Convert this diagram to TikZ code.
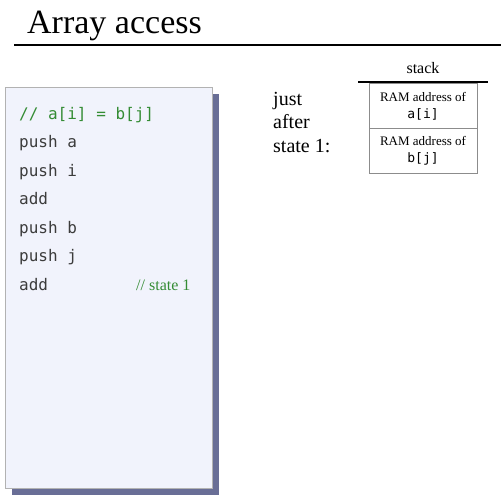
\documentclass[tikz,border=0pt]{standalone}
\usepackage{fontspec}
\setmainfont{Liberation Serif}
\setmonofont{DejaVu Sans Mono}
\definecolor{codegreen}{RGB}{52,140,52}
\definecolor{codegray}{RGB}{60,60,60}
\definecolor{panelfill}{RGB}{241,243,252}
\definecolor{panelshadow}{RGB}{105,110,150}
\tikzset{
	codeline/.style={anchor=base west, inner sep=0pt, text=codegray, font=\fontsize{16}{16}\selectfont\ttfamily},
	label/.style={anchor=base west, inner sep=0pt, font=\fontsize{20}{20}\selectfont},
	cell/.style={draw=black!45, minimum width=108pt, minimum height=45pt, inner sep=0pt, align=center, font=\fontsize{13}{17}\selectfont}
}
\begin{document}
\begin{tikzpicture}[x=1pt,y=-1pt]
		\useasboundingbox (0,0) rectangle (501,501);

		\node[anchor=base west, inner sep=0pt, font=\fontsize{34}{34}\selectfont] (title) at (27,33) {Array access};
		\draw[line width=1.5pt] (14,45) -- (501,45);

		% code panel
		\fill[panelshadow] (12,94) rectangle (219,495);
		\filldraw[draw=black!30, fill=panelfill] (5,87) rectangle (212,488);

		\node[codeline, text=codegreen] (c0) at (19,119) {// a[i] = b[j]};
		\node[codeline] (c1) at (19,147.5) {push a};
		\node[codeline] (c2) at (19,176) {push i};
		\node[codeline] (c3) at (19,204.5) {add};
		\node[codeline] (c4) at (19,233) {push b};
		\node[codeline] (c5) at (19,261.5) {push j};
		\node[codeline] (c6) at (19,290) {add};
		\node[anchor=base west, inner sep=0pt, text=codegreen, font=\fontsize{16}{16}\selectfont] (state) at (136,290) {// state 1};

		% stack
		\node[label] (just) at (273,105) {just};
		\node[label] (after) at (273,128.5) {after};
		\node[label] (st1) at (273,152) {state 1:};

		\node[anchor=base, inner sep=0pt, font=\fontsize{16}{16}\selectfont] (stack) at (423,73) {stack};
		\draw[line width=2.5pt] (358,82) -- (488,82);
		\node[cell] (ai) at (423,106) {RAM address of\\\texttt{a[i]}};
		\node[cell] (bj) at (423,151) {RAM address of\\\texttt{b[j]}};
	\end{tikzpicture}
\end{document}
